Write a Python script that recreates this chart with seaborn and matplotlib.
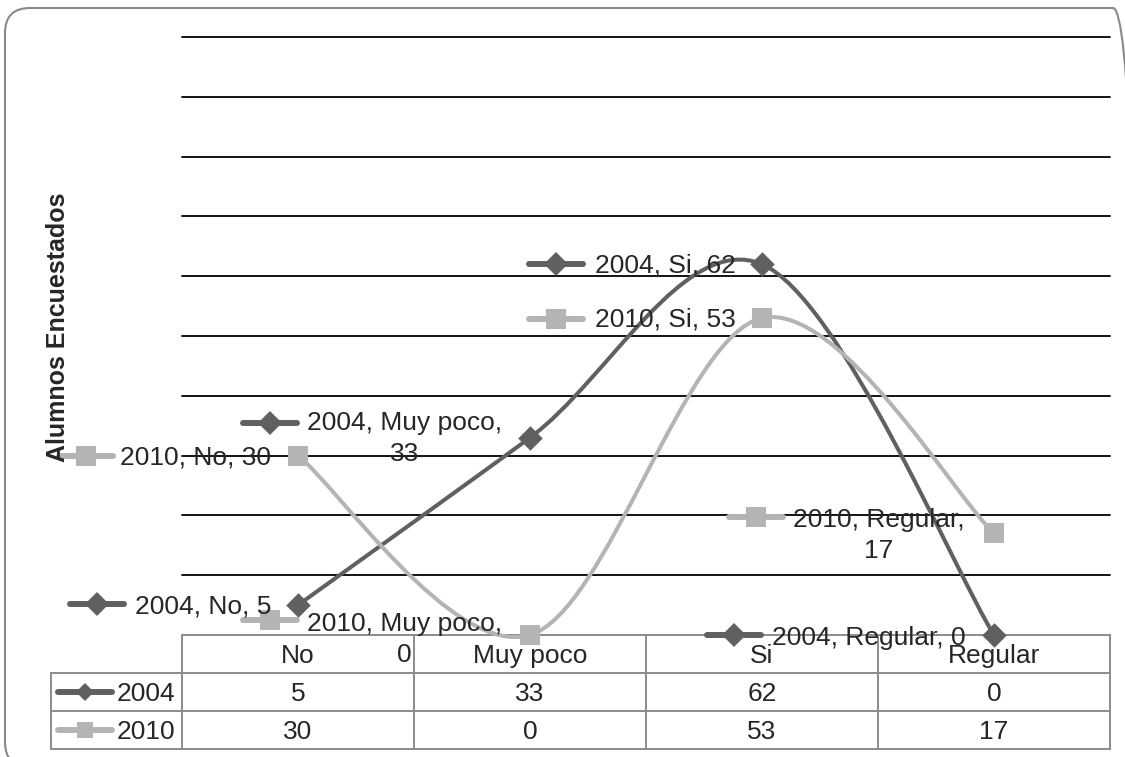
import matplotlib
matplotlib.use("Agg")
import matplotlib.pyplot as plt
from matplotlib.path import Path
from matplotlib.patches import PathPatch, FancyBboxPatch
from matplotlib.transforms import IdentityTransform
import numpy as np
import pandas as pd
import seaborn as sns

# ---- data ----
categories = ["No", "Muy poco", "Si", "Regular"]
years = ["2004", "2010"]
values_2004 = [5, 33, 62, 0]
values_2010 = [30, 0, 53, 17]
y_label = "Alumnos Encuestados"

series = {"2004": values_2004, "2010": values_2010}
colors = {"2004": "#606060", "2010": "#b4b4b4"}
markers = {"2004": "D", "2010": "s"}
marker_sizes = {"2004": 12.5, "2010": 14.0}
table_marker_sizes = {"2004": 9.0, "2010": 11.5}

df = pd.DataFrame(
    [(y, i, c, v) for y in years for i, (c, v) in enumerate(zip(categories, series[y]))],
    columns=["year", "pos", "category", "value"],
)

sns.set_style("white")
plt.rcParams["font.family"] = ["Liberation Sans", "DejaVu Sans"]
FS = 19

W, H = 1125, 757
fig = plt.figure(figsize=(W / 100, H / 100), dpi=100)

# plot area and data table area (pixel boxes)
PL, PR, PT, PB = 182, 1110, 37, 635
TL, TB = 51, 749
YMAX = 100
ax = fig.add_axes([PL / W, 1 - PB / H, (PR - PL) / W, (PB - PT) / H])
tab = fig.add_axes([TL / W, 1 - TB / H, (PR - TL) / W, (TB - PB) / H])
col_w = (PR - PL) / len(categories)     # pixels per category
px_per_unit = (PB - PT) / YMAX           # pixels per value unit

ax.set_xlim(-0.5, len(categories) - 0.5)
ax.set_ylim(0, YMAX)
ax.set_yticks(np.arange(10, YMAX + 1, 10))
ax.set_xticks([])
ax.tick_params(left=False, labelleft=False)
ax.yaxis.grid(True, color="black", lw=1.3)
for gl in ax.get_ygridlines():
    gl.set_clip_on(False)
for s in ax.spines.values():
    s.set_visible(False)
ax.patch.set_visible(False)
ax.set_zorder(tab.get_zorder() + 1)


def smooth_path(xs, ys):
    """Cubic Bezier through every point (Catmull-Rom style tangents)."""
    pts = np.column_stack([xs, ys]).astype(float)
    n = len(pts)
    verts = [pts[0]]
    codes = [Path.MOVETO]
    for i in range(n - 1):
        p0 = pts[max(i - 1, 0)]
        p1 = pts[i]
        p2 = pts[i + 1]
        p3 = pts[min(i + 2, n - 1)]
        c1 = p1 + (p2 - p0) / 6.0
        c2 = p2 - (p3 - p1) / 6.0
        verts += [c1, c2, p2]
        codes += [Path.CURVE4] * 3
    return Path(verts, codes)


for y in years:
    sub = df[df.year == y]
    ax.add_patch(PathPatch(smooth_path(sub.pos, sub.value), fc="none",
                           ec=colors[y], lw=2.9, zorder=3, clip_on=False))

for y in years:
    sns.scatterplot(data=df[df.year == y], x="pos", y="value", ax=ax,
                    color=colors[y], marker=markers[y], s=marker_sizes[y] ** 2,
                    linewidth=0, zorder=4, clip_on=False, legend=False)
ax.set_xlabel("")
ax.set_ylabel("")


def key(axis, xc, yc, year, half_len, ms):
    axis.plot([xc - half_len, xc + half_len], [yc, yc], color=colors[year], lw=4.3,
              solid_capstyle="round", clip_on=False, zorder=5)
    axis.plot([xc], [yc], marker=markers[year], ms=ms, mew=0,
              color=colors[year], clip_on=False, zorder=6)


# data labels, offsets in pixels from the point (screen y down):
# (year, category index, key centre dx, key dy, text left dx, text dy, wrapped)
# for wrapped labels text dy is the top of the text block
label_layout = [
    ("2004", 0, -201, -1, -163, -1, False),
    ("2010", 0, -212, 0, -178, -1, False),
    ("2004", 1, -260, -15, -223, -27, True),
    ("2010", 1, -260, -15, -223, -23, True),
    ("2004", 2, -206, 0, -167, -1, False),
    ("2010", 2, -206, 1, -167, -1, False),
    ("2010", 3, -238, -16, -201, -25, True),
    ("2004", 3, -260, 0, -222, 1, False),
]
for year, i, kdx, kdy, tdx, tdy, wrapped in label_layout:
    v = series[year][i]
    key(ax, i + kdx / col_w, v - kdy / px_per_unit, year, 27 / col_w, marker_sizes[year])
    tx = i + tdx / col_w
    ty = v - tdy / px_per_unit
    if wrapped:
        ax.text(tx, ty, f"{year}, {categories[i]},\n{v}", ha="left", va="top",
                multialignment="center", fontsize=FS, zorder=7, linespacing=1.37,
                clip_on=False)
    else:
        ax.text(tx, ty, f"{year}, {categories[i]}, {v}", ha="left",
                va="center_baseline", fontsize=FS, zorder=7, clip_on=False)

# ---- data table ----
left_x = -0.5 - (PL - TL) / col_w
right_x = len(categories) - 0.5
tab.set_xlim(left_x, right_x)
tab.set_ylim(3, 0)
tab.axis("off")
grey = "#8c8c8c"
tab.plot([-0.5, right_x], [0, 0], color=grey, lw=1.4, clip_on=False)
for r in (1, 2, 3):
    tab.plot([left_x, right_x], [r, r], color=grey, lw=1.4, clip_on=False)
tab.plot([left_x, left_x], [1, 3], color=grey, lw=1.4, clip_on=False)
for c in np.arange(-0.5, len(categories), 1.0):
    tab.plot([c, c], [0, 3], color=grey, lw=1.4, clip_on=False)

for i, c in enumerate(categories):
    tab.text(i, 0.55, c, ha="center", va="center", fontsize=FS)
to_tab_x = lambda p: -0.5 + (p - PL) / col_w
for r, year in enumerate(years, start=1):
    for i, v in enumerate(series[year]):
        tab.text(i, r + 0.55, str(v), ha="center", va="center", fontsize=FS)
    key(tab, to_tab_x(85), r + 0.5, year, 27 / col_w, table_marker_sizes[year])
    tab.text(to_tab_x(175), r + 0.55, year, ha="right", va="center", fontsize=FS)

# axis title
fig.text(58 / W, 1 - 327 / H, y_label, rotation=90, ha="center", va="center",
         fontsize=18, fontweight="bold")

# rounded chart border
fig.add_artist(FancyBboxPatch((5, H - 767), 1133, 759,
                              boxstyle="round,pad=0,rounding_size=25",
                              transform=IdentityTransform(), fc="none",
                              ec="#8a8a8a", lw=1.5))

fig.savefig("out.png", dpi=100)
